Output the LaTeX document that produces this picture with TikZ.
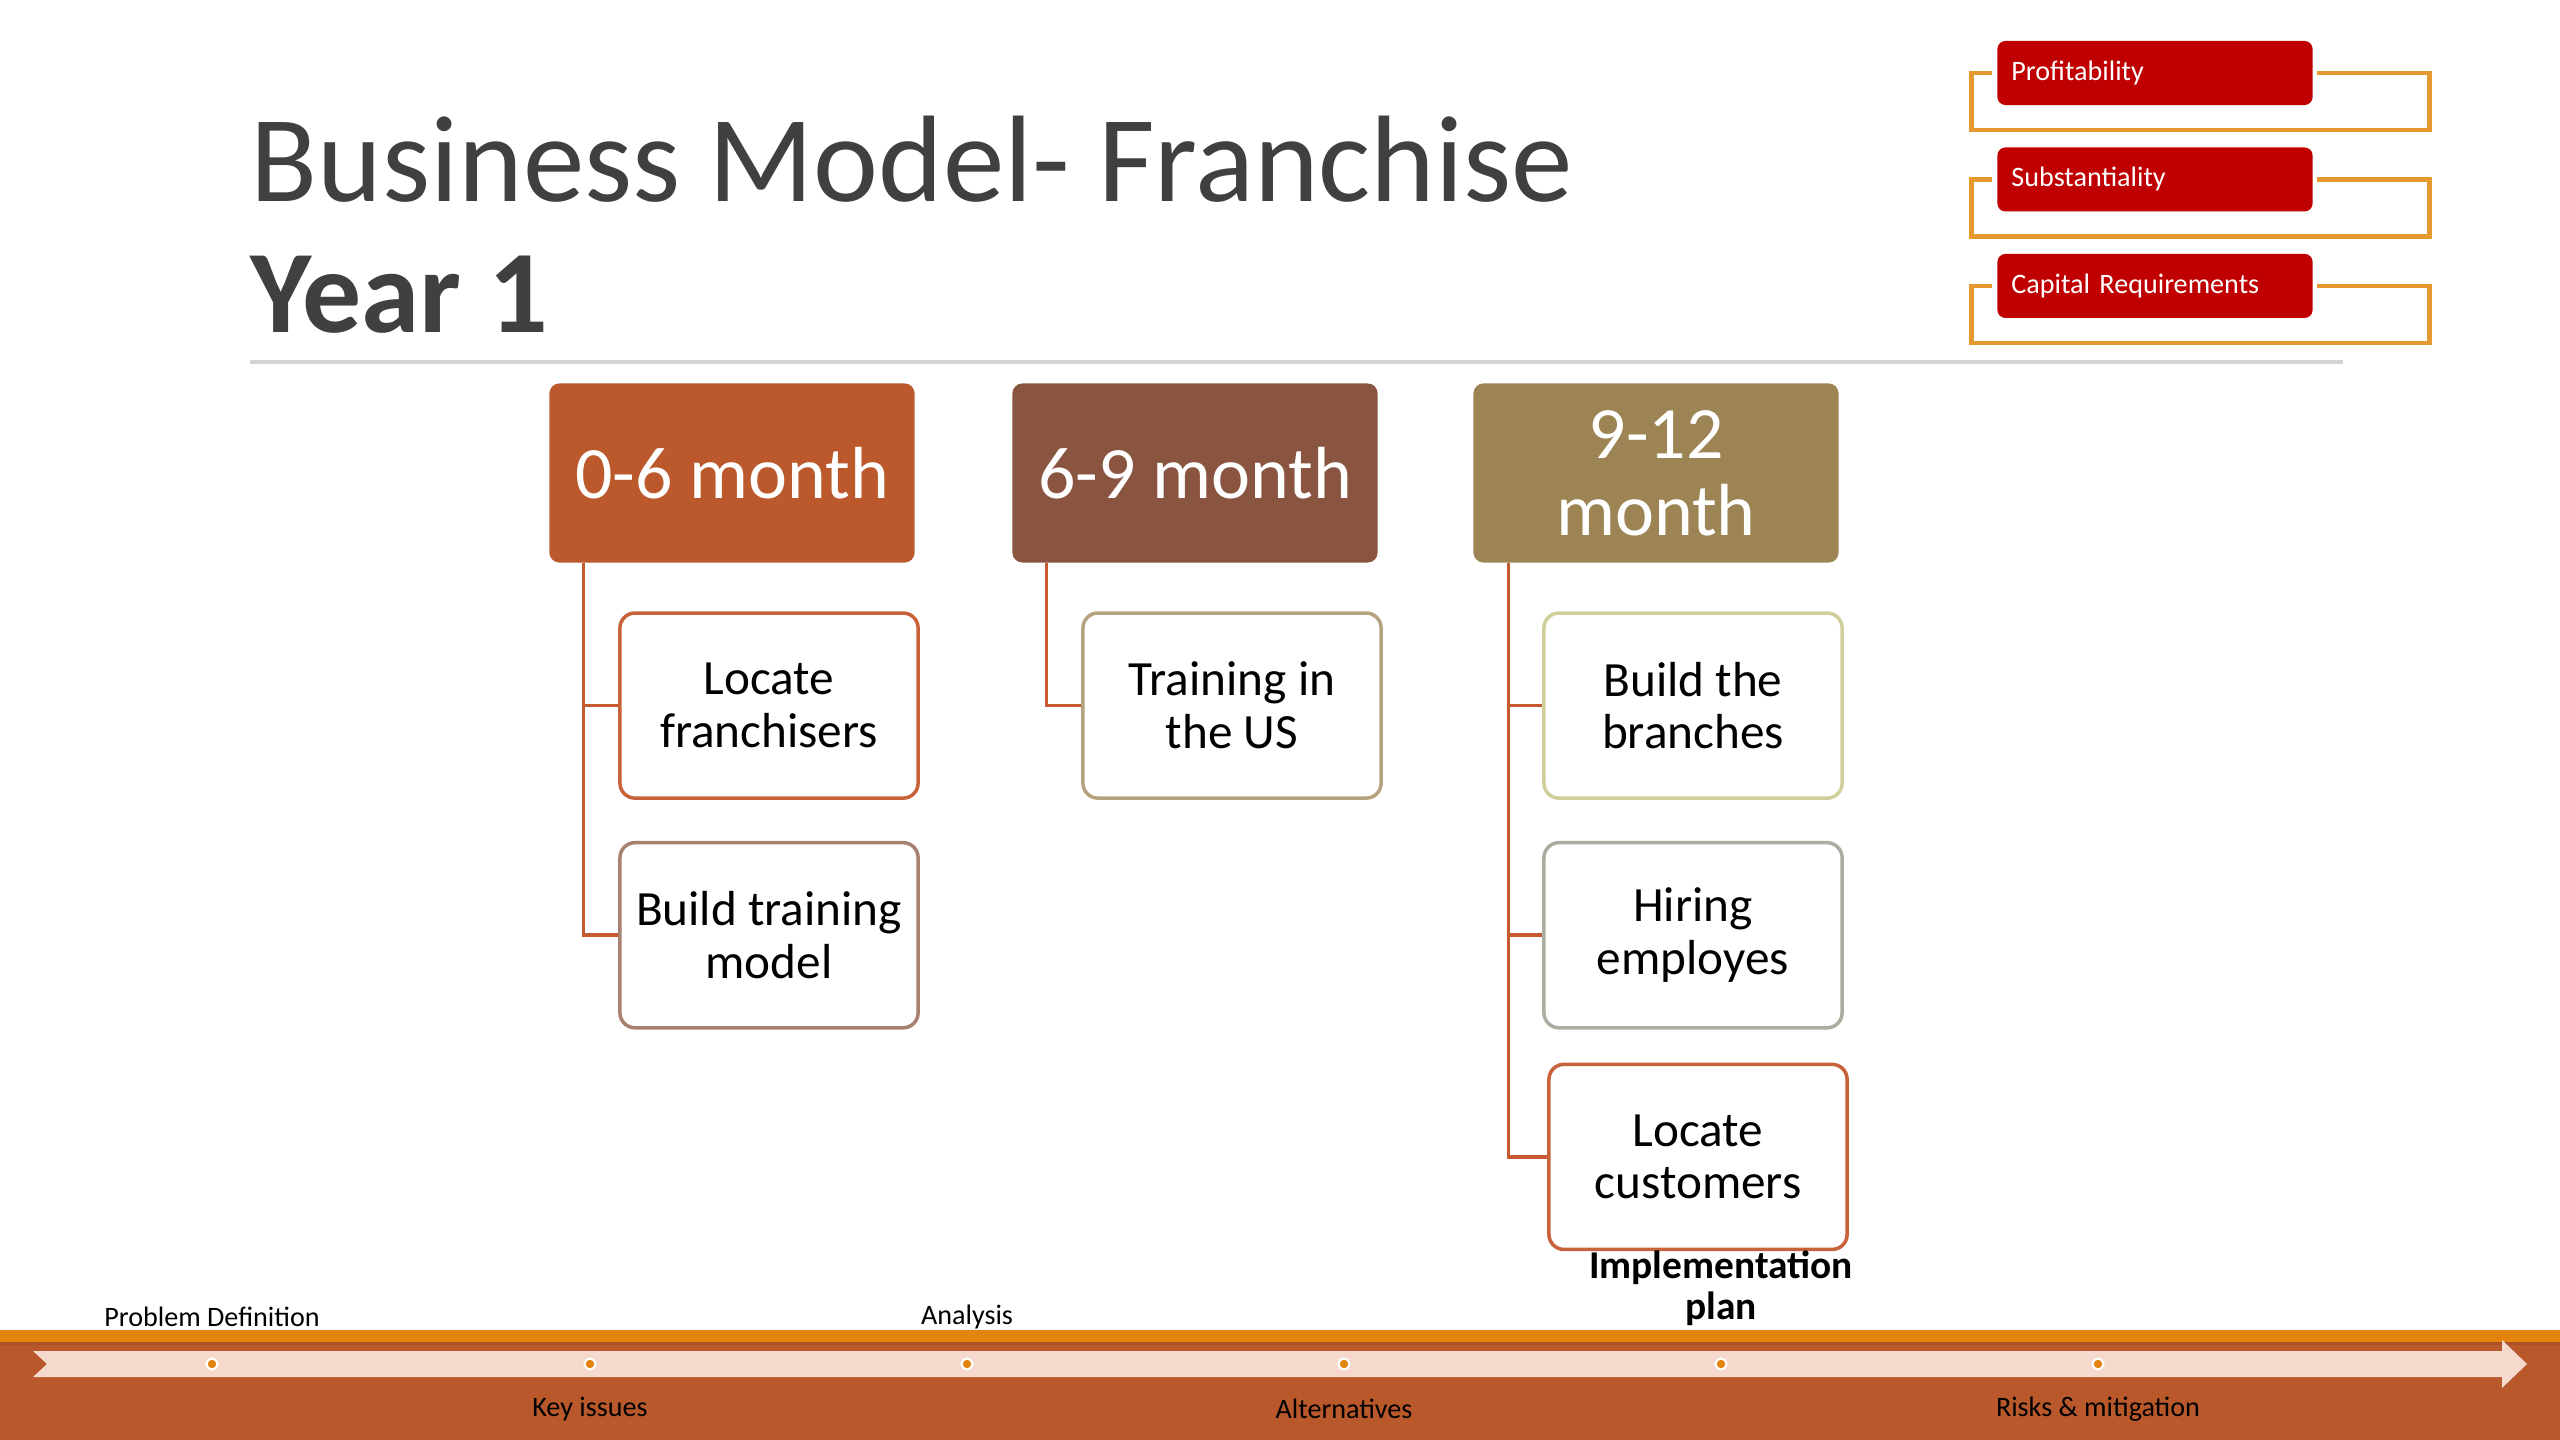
\documentclass[tikz,border=0pt]{standalone}
\usepackage{fontspec}
\setmainfont{Carlito}
\usepackage{tikz}
\usetikzlibrary{positioning,calc}

\definecolor{titlec}{HTML}{404040}
\definecolor{rulec}{HTML}{D4D4D4}
\definecolor{phaseA}{HTML}{BB582C}
\definecolor{phaseB}{HTML}{8A5540}
\definecolor{phaseC}{HTML}{9D8455}
\definecolor{linkc}{HTML}{C55A30}
\definecolor{critred}{HTML}{C00000}
\definecolor{brkc}{HTML}{E6992E}
\definecolor{bandc}{HTML}{B9582B}
\definecolor{stripc}{HTML}{E3840F}
\definecolor{arrowc}{HTML}{F4D9CC}
\definecolor{dotc}{HTML}{E3840F}
\definecolor{oliveb}{HTML}{D0CF9A}
\definecolor{grayb}{HTML}{A9AFA0}

\begin{document}
\begin{tikzpicture}[
  x=0.01cm, y=-0.01cm,
  phase/.style={rounded corners=0.1cm, minimum width=3.65cm, minimum height=1.79cm, text=white, align=center, inner sep=0pt, font=\fontsize{21}{22}\selectfont},
  task/.style={draw, line width=1pt, rounded corners=0.15cm, fill=white, minimum width=2.98cm, minimum height=1.85cm, align=center, inner sep=0pt, font=\fontsize{14}{15}\selectfont},
  crit/.style={fill=critred, rounded corners=0.08cm, text width=2.87cm, inner xsep=0.14cm, minimum height=0.64cm, align=left, text=white, font=\fontsize{8}{9}\selectfont},
  link/.style={draw=linkc, line width=1pt},
  brk/.style={draw=brkc, line width=1.3pt},
  stage/.style={font=\fontsize{8}{9}\selectfont, inner sep=0pt},
  dot/.style={circle, fill=dotc, draw=white, line width=0.6pt, inner sep=0pt, minimum size=0.11cm}
]
\useasboundingbox (0,0) rectangle (2560,1440);

% title
\node[anchor=base west, inner sep=0pt, text=titlec, font=\fontsize{35}{35}\selectfont] (title) at (250,202) {Business Model- Franchise};
\node[anchor=base west, inner sep=0pt, text=titlec, font=\fontsize{33.5}{35}\selectfont\bfseries] (year) at (250,333) {Year 1};
\draw[rulec, line width=0.9pt] (250,362) -- (2343,362);

% criteria
\node[crit] (profit) at (2155,73) {Profitability};
\node[crit, below=0.41cm of profit] (subst) {Substantiality};
\node[crit, below=0.41cm of subst] (capital) {Capital Requirements};

\draw[brk] ([xshift=-0.05cm]profit.west) -| ([xshift=-0.25cm, yshift=-0.57cm]profit.west) -| ([xshift=1.16cm]profit.east) -- ([xshift=0.04cm]profit.east);
\draw[brk] ([xshift=-0.05cm]subst.west) -| ([xshift=-0.25cm, yshift=-0.57cm]subst.west) -| ([xshift=1.16cm]subst.east) -- ([xshift=0.04cm]subst.east);
\draw[brk] ([xshift=-0.05cm]capital.west) -| ([xshift=-0.25cm, yshift=-0.57cm]capital.west) -| ([xshift=1.16cm]capital.east) -- ([xshift=0.04cm]capital.east);

% phases
\node[phase, fill=phaseA] (early) at (732,473) {0-6 month};
\node[phase, fill=phaseB] (mid) at (1195,473) {6-9 month};
\node[phase, fill=phaseC] (late) at (1656,473) {9-12\\month};

\node[task, draw=linkc!95!white, below=0.48cm of early, xshift=0.37cm] (franch) {Locate\\franchisers};
\node[task, draw=phaseB!75!white, below=0.41cm of franch] (trainmod) {Build training\\model};
\node[task, draw=phaseC!75!white, below=0.48cm of mid, xshift=0.37cm] (trainus) {Training in\\the US};
\node[task, draw=oliveb, below=0.48cm of late, xshift=0.37cm] (branch) {Build the\\branches};
\node[task, draw=grayb, below=0.41cm of branch] (hiring) {Hiring\\employes};
\node[task, draw=linkc!95!white, below=0.33cm of hiring, xshift=0.05cm] (cust) {Locate\\customers};

\draw[link] ([xshift=0.35cm]early.south west) |- (franch.west);
\draw[link] ([xshift=0.35cm]early.south west) |- (trainmod.west);
\draw[link] ([xshift=0.35cm]mid.south west) |- (trainus.west);
\draw[link] ([xshift=0.36cm]late.south west) |- (branch.west);
\draw[link] ([xshift=0.36cm]late.south west) |- (hiring.west);
\draw[link] ([xshift=0.36cm]late.south west) |- (cust.west);

% footer band
\fill[bandc] (0,1342) rectangle (2560,1440);
\fill[stripc] (0,1330) rectangle (2560,1342);
\fill[bandc!92!black] (0,1342) rectangle (2560,1345);
\fill[arrowc] (33,1351) -- (2502,1351) -- (2502,1340) -- (2527,1364) -- (2502,1388) -- (2502,1377) -- (33,1377) -- (47,1364) -- cycle;

\node[dot] (d1) at (212,1364) {};
\node[dot] (d2) at (590,1364) {};
\node[dot] (d3) at (967,1364) {};
\node[dot] (d4) at (1344,1364) {};
\node[dot] (d5) at (1721,1364) {};
\node[dot] (d6) at (2098,1364) {};

\node[stage] (s1) at (212,1317) {Problem Definition};
\node[stage] (s3) at (967,1317) {Analysis};
\node[stage, align=center, font=\fontsize{11.2}{11.7}\selectfont\bfseries] (s5) at (1721,1288) {Implementation\\plan};
\node[stage] (s2) at (590,1409) {Key issues};
\node[stage] (s4) at (1344,1409) {Alternatives};
\node[stage] (s6) at (2098,1409) {Risks \& mitigation};
\end{tikzpicture}
\end{document}
